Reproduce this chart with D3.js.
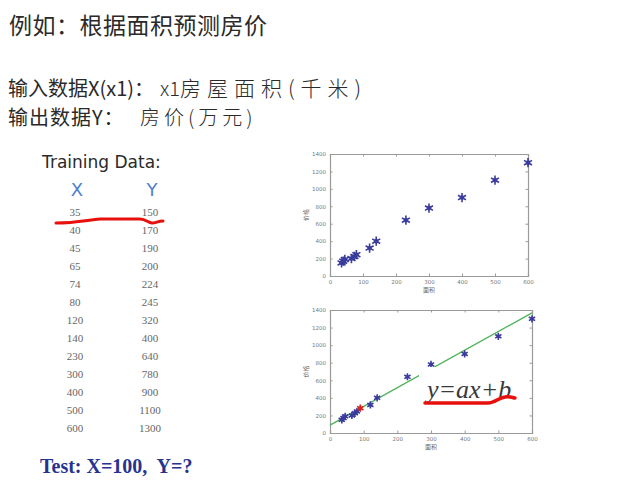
<!DOCTYPE html>
<html>
<head>
<meta charset="utf-8">
<script src="https://cdn.jsdelivr.net/npm/d3@7"></script>
<style>
  body { margin: 0; background: #fff; }
  svg { display: block; }
</style>
</head>
<body>
<div id="chart"></div>
<script>
// training data: house area (x) and price (y)
var areaX = [35, 40, 45, 65, 74, 80, 120, 140, 230, 300, 400, 500, 600];
var priceY = [150, 170, 190, 200, 224, 245, 320, 400, 640, 780, 900, 1100, 1300];

// axis ticks of both small plots
var xTicks = [0, 100, 200, 300, 400, 500, 600];
var yTicks = [0, 200, 400, 600, 800, 1000, 1200, 1400];

// fitted line (x, y) end points and the predicted point
var fitX = [0, 600];
var fitY = [90, 1368];
var predX = [90];
var predY = [282];

var svgWidth = 618;
var svgHeight = 498;

var svg = d3.select("#chart")
  .append("svg")
  .attr("width", svgWidth)
  .attr("height", svgHeight);

var cjk = "'Noto Sans CJK SC', 'Noto Sans', sans-serif";

// ---- heading text ----
svg.append("text")
  .attr("x", 9)
  .attr("y", 34)
  .attr("font-family", cjk)
  .attr("font-size", 23)
  .attr("letter-spacing", 0.5)
  .attr("fill", "#2a2a2a")
  .text("例如：根据面积预测房价");

var line2 = svg.append("text")
  .attr("x", 8)
  .attr("y", 96)
  .attr("font-family", cjk)
  .attr("font-size", 20)
  .attr("fill", "#2a2a2a");
line2.append("tspan").text("输入数据X(x1)：");
line2.append("tspan")
  .attr("x", 160)
  .attr("font-size", 20)
  .attr("font-weight", 300)
  .text("x1");
line2.append("tspan")
  .attr("x", 180)
  .attr("font-size", 21)
  .attr("font-weight", 300)
  .attr("letter-spacing", 6)
  .text("房屋面积(千米)");

var line3 = svg.append("text")
  .attr("x", 8)
  .attr("y", 125)
  .attr("font-family", cjk)
  .attr("font-size", 20)
  .attr("fill", "#2a2a2a");
line3.append("tspan").attr("letter-spacing", 1).text("输出数据Y：");
line3.append("tspan")
  .attr("x", 140)
  .attr("font-size", 20)
  .attr("font-weight", 300)
  .attr("letter-spacing", 4)
  .text("房价(万元)");

// ---- training data table ----
svg.append("text")
  .attr("x", 42)
  .attr("y", 168)
  .attr("font-family", "'DejaVu Sans', sans-serif")
  .attr("font-size", 17)
  .attr("fill", "#2a2a2a")
  .text("Training Data:");

var colX = 75, colY = 150;

svg.append("text")
  .attr("x", colX + 2)
  .attr("y", 196)
  .attr("text-anchor", "middle")
  .attr("font-family", "'DejaVu Sans', sans-serif")
  .attr("font-size", 18)
  .attr("fill", "#4f7fce")
  .text("X");

svg.append("text")
  .attr("x", colY + 2)
  .attr("y", 196)
  .attr("text-anchor", "middle")
  .attr("font-family", "'DejaVu Sans', sans-serif")
  .attr("font-size", 18)
  .attr("fill", "#4f7fce")
  .text("Y");

var rowScale = d3.scalePoint()
  .domain(d3.range(areaX.length))
  .range([212, 428]);

var rows = svg.append("g")
  .attr("font-family", "'Liberation Serif', serif")
  .attr("font-size", 11)
  .attr("fill", "#666")
  .attr("text-anchor", "middle");

rows.selectAll(".xcell")
  .data(areaX)
  .enter()
  .append("text")
  .attr("x", colX)
  .attr("y", (d, i) => rowScale(i) + 4)
  .text(d => d);

rows.selectAll(".ycell")
  .data(priceY)
  .enter()
  .append("text")
  .attr("x", colY)
  .attr("y", (d, i) => rowScale(i) + 4)
  .text(d => d);

// red hand-drawn underline in the table
svg.append("path")
  .attr("d", "M56,223 C75,223 88,220 100,219 L140,219 C146,219 148,223 152,223 C156,223 158,221 163,221")
  .attr("fill", "none")
  .attr("stroke", "#e8100c")
  .attr("stroke-width", 3)
  .attr("stroke-linecap", "round");

svg.append("text")
  .attr("x", 40)
  .attr("y", 473)
  .attr("font-family", "'Liberation Serif', serif")
  .attr("font-weight", "bold")
  .attr("font-size", 20)
  .attr("fill", "#27348f")
  .attr("xml:space", "preserve")
  .text("Test: X=100,  Y=?");

// ---- small plots ----
var markColor = "#3a3c9c";

function drawPlot(left, top, w, h) {
  var g = svg.append("g").attr("transform", `translate(${left}, ${top})`);

  var x = d3.scaleLinear().domain([0, 600]).range([0, w]);
  var y = d3.scaleLinear().domain([0, 1400]).range([h, 0]);

  var bottomAxis = d3.axisBottom(x).tickValues(xTicks).tickSize(-2.5).tickPadding(4).tickFormat(d3.format("d"));
  var leftAxis = d3.axisLeft(y).tickValues(yTicks).tickSize(-2.5).tickPadding(4).tickFormat(d3.format("d"));
  var topAxis = d3.axisTop(x).tickValues(xTicks).tickSize(-2.5).tickFormat("");
  var rightAxis = d3.axisRight(y).tickValues(yTicks).tickSize(-2.5).tickFormat("");

  [[bottomAxis, `translate(0, ${h})`], [leftAxis, null], [topAxis, null], [rightAxis, `translate(${w}, 0)`]]
    .forEach(function(a) {
      var ax = g.append("g").call(a[0]);
      if (a[1]) ax.attr("transform", a[1]);
      ax.select(".domain").attr("stroke", "#9a9a9a").attr("stroke-width", 1.2);
      ax.selectAll(".tick line").attr("stroke", "#9a9a9a");
      ax.selectAll(".tick text")
        .attr("fill", "#777")
        .attr("font-size", 5.5)
        .attr("font-family", "'DejaVu Sans', sans-serif");
    });

  g.append("text")
    .attr("x", w / 2)
    .attr("y", h + 16)
    .attr("text-anchor", "middle")
    .attr("font-family", cjk)
    .attr("font-size", 6)
    .attr("fill", "#666")
    .text("面积");

  g.append("text")
    .attr("transform", `translate(-22, ${h / 2}) rotate(-90)`)
    .attr("text-anchor", "middle")
    .attr("font-family", cjk)
    .attr("font-size", 6)
    .attr("fill", "#666")
    .text("价格");

  return { g: g, x: x, y: y };
}

function drawPoints(p, size, color, xs, ys) {
  var star = d3.symbol().type(d3.symbolAsterisk).size(size);
  var pts = xs.map((d, i) => [d, ys[i]]);
  p.g.selectAll(null)
    .data(pts)
    .enter()
    .append("path")
    .attr("transform", d => `translate(${p.x(d[0])}, ${p.y(d[1])})`)
    .attr("d", star)
    .attr("fill", "none")
    .attr("stroke", color)
    .attr("stroke-width", 1.6);
  p.g.selectAll(null)
    .data(pts)
    .enter()
    .append("circle")
    .attr("cx", d => p.x(d[0]))
    .attr("cy", d => p.y(d[1]))
    .attr("r", Math.sqrt(size) / 3.2)
    .attr("fill", color)
    .attr("opacity", 0.75);
}

// upper plot: training data only
var plot1 = drawPlot(330, 154, 198, 122);
drawPoints(plot1, 60, markColor, areaX, priceY);

// lower plot: training data with fitted line
var plot2 = drawPlot(330, 310, 202, 123);

plot2.g.append("path")
  .datum(fitX.map((d, i) => [d, fitY[i]]))
  .attr("d", d3.line().x(d => plot2.x(d[0])).y(d => plot2.y(d[1])))
  .attr("fill", "none")
  .attr("stroke", "#4fb35a")
  .attr("stroke-width", 1.3);

// formula label with white box that hides part of the line
var formula = svg.append("g");
var formulaText = formula.append("text")
  .attr("x", 427)
  .attr("y", 398)
  .attr("font-family", "'Liberation Serif', serif")
  .attr("font-style", "italic")
  .attr("font-size", 26)
  .attr("fill", "#3a3a3a")
  .text("y=ax+b");
var bb = formulaText.node().getBBox();
formula.insert("rect", "text")
  .attr("x", bb.x - 5)
  .attr("y", bb.y - 8)
  .attr("width", bb.width + 8)
  .attr("height", bb.height + 8)
  .attr("fill", "#fff");

drawPoints(plot2, 36, markColor, areaX, priceY);
drawPoints(plot2, 36, "#d8201c", predX, predY);

// red hand-drawn underline under the formula
svg.append("path")
  .attr("d", "M425,403 L488,403 C495,403 498,398 505,397 C510,396 513,398 515,398")
  .attr("fill", "none")
  .attr("stroke", "#e8100c")
  .attr("stroke-width", 3.5)
  .attr("stroke-linecap", "round");
</script>
</body>
</html>
